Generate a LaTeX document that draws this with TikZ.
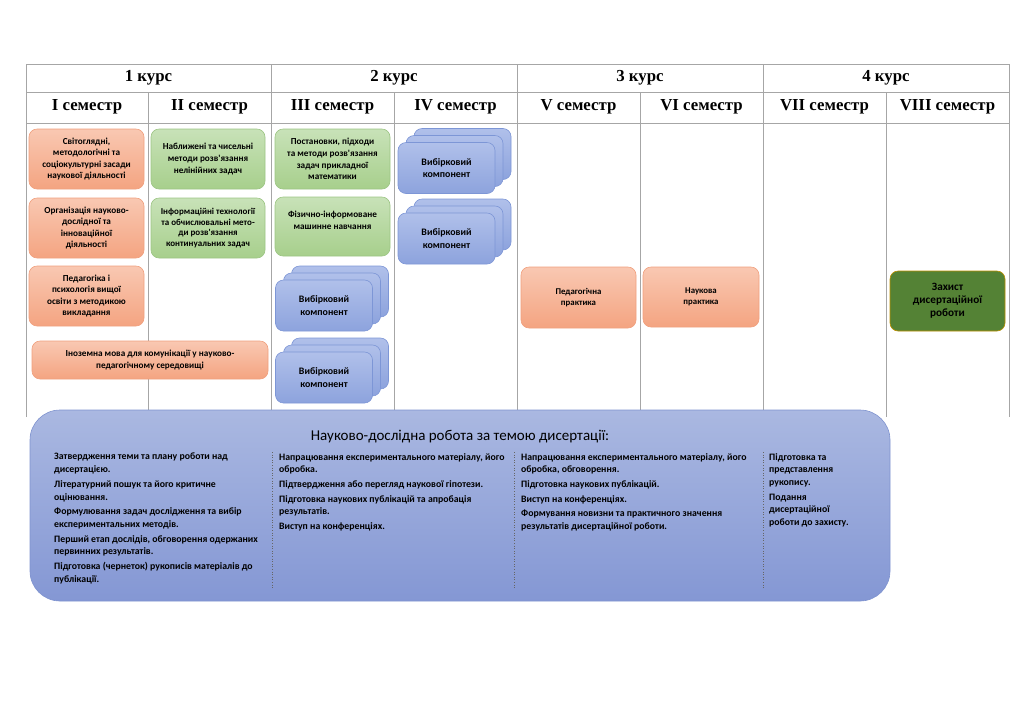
\documentclass[tikz,border=0pt]{standalone}
\usepackage{fontspec}
\setmainfont{Liberation Serif}
\newfontfamily\calfont{Carlito}
\definecolor{gridgray}{HTML}{A6A6A6}
\definecolor{orT}{HTML}{F9C8B2}
\definecolor{orB}{HTML}{F4A481}
\definecolor{orD}{HTML}{F0A07E}
\definecolor{grT}{HTML}{C8E2B8}
\definecolor{grB}{HTML}{A7CF8C}
\definecolor{grD}{HTML}{9CC584}
\definecolor{blT}{HTML}{B0C0EA}
\definecolor{blB}{HTML}{8DA3DD}
\definecolor{blD}{HTML}{7D96D6}
\definecolor{bigT}{HTML}{AAB8E1}
\definecolor{bigB}{HTML}{8497D4}
\definecolor{bigD}{HTML}{7F93CF}
\definecolor{dkgreen}{HTML}{548235}
\definecolor{gold}{HTML}{BF9000}
\begin{document}
\begin{tikzpicture}[x=1pt,y=-1pt,
  grid/.style={draw=gridgray, line width=0.9pt},
  hd/.style={font=\bfseries\fontsize{16.8}{18}\selectfont, inner sep=0},
  boxbase/.style={rounded corners=8pt, align=center, inner sep=1pt, line width=0.6pt},
  orbox/.style={boxbase, draw=orD, top color=orT, bottom color=orB, font=\calfont\bfseries\fontsize{9.2}{11.6}\selectfont},
  grbox/.style={boxbase, draw=grD, top color=grT, bottom color=grB, font=\calfont\bfseries\fontsize{9.2}{11.6}\selectfont},
  blbox/.style={boxbase, draw=blD, top color=blT, bottom color=blB, minimum width=97pt, minimum height=51pt, font=\calfont\bfseries\fontsize{9.9}{12.5}\selectfont},
  prbox/.style={orbox, font=\calfont\bfseries\fontsize{8.8}{11.5}\selectfont},
  sect/.style={anchor=north west, inner sep=0, align=left, font=\calfont\bfseries\fontsize{9.8}{12.7}\selectfont},
  sep/.style={draw=black!60, dotted, line width=0.6pt}
]
\useasboundingbox (0,0) rectangle (1024,724);

% table
\draw[grid] (26,417) -- (26,64) -- (1009,64) -- (1009,417);
\draw[grid] (26,92) -- (1009,92);
\draw[grid] (26,123) -- (1009,123);
\foreach \x in {271,517,763} \draw[grid] (\x,64) -- (\x,417);
\foreach \x in {148,394,640,886} \draw[grid] (\x,92) -- (\x,417);

\node[hd] (k1) at (148.5,77.5) {1 курс};
\node[hd] (k2) at (394,77.5) {2 курс};
\node[hd] (k3) at (640,77.5) {3 курс};
\node[hd] (k4) at (886,77.5) {4 курс};
\node[hd] (s1) at (87,106.5) {I семестр};
\node[hd] (s2) at (209.5,106.5) {II семестр};
\node[hd] (s3) at (332.5,106.5) {III семестр};
\node[hd] (s4) at (455.5,106.5) {IV семестр};
\node[hd] (s5) at (578.5,106.5) {V семестр};
\node[hd] (s6) at (701.5,106.5) {VI семестр};
\node[hd] (s7) at (824.5,106.5) {VII семестр};
\node[hd] (s8) at (947.5,106.5) {VIII семестр};

% semester I
\node[orbox, minimum width=115pt, minimum height=60pt] (a1) at (86.5,159)
  {Світоглядні,\\методологічні та\\соціокультурні засади\\наукової діяльності};
\node[orbox, minimum width=115pt, minimum height=60pt] (a2) at (86.5,228)
  {Організація науково-\\дослідної та\\інноваційної\\діяльності};
\node[orbox, minimum width=115pt, minimum height=60pt] (a3) at (86.5,296)
  {Педагогіка і\\психологія вищої\\освіти з методикою\\викладання};
\node[orbox, minimum width=236pt, minimum height=38pt] (a4) at (150,360)
  {Іноземна мова для комунікації у науково-\\педагогічному середовищі};

% semester II
\node[grbox, minimum width=114pt, minimum height=60pt] (b1) at (208,159)
  {Наближені та чисельні\\методи розв'язання\\нелінійних задач};
\node[grbox, minimum width=114pt, minimum height=60pt, font=\calfont\bfseries\fontsize{9}{10.4}\selectfont] (b2) at (208,228)
  {Інформаційні технології\\та обчислювальні мето-\\ди розв'язання\\континуальних задач};

% semester III
\node[grbox, minimum width=115pt, minimum height=60pt] (c1) at (332.5,159)
  {Постановки, підходи\\та методи розв'язання\\задач прикладної\\математики};
\node[grbox, minimum width=115pt, minimum height=59pt, text depth=12pt] (c2) at (332.5,226.5)
  {Фізично-інформоване\\машинне навчання};
\node[blbox] (c3c) at (340,291.5) {};
\node[blbox] (c3b) at (332,298.5) {};
\node[blbox] (c3a) at (324,305.5) {Вибірковий\\компонент};
\node[blbox] (c4c) at (340,363.5) {};
\node[blbox] (c4b) at (332,370.5) {};
\node[blbox] (c4a) at (324,377.5) {Вибірковий\\компонент};

% semester IV
\node[blbox] (d1c) at (462.5,154) {};
\node[blbox] (d1b) at (454.5,161) {};
\node[blbox] (d1a) at (446.5,168) {Вибірковий\\компонент};
\node[blbox] (d2c) at (462.5,224.5) {};
\node[blbox] (d2b) at (454.5,231.5) {};
\node[blbox] (d2a) at (446.5,238.5) {Вибірковий\\компонент};

% semesters V, VI, VIII
\node[prbox, minimum width=115pt, minimum height=61pt] (e1) at (578.5,297.5) {Педагогічна\\практика};
\node[prbox, minimum width=116pt, minimum height=60pt] (f1) at (701,297) {Наукова\\практика};
\node[boxbase, draw=gold, fill=dkgreen, minimum width=115pt, minimum height=60pt,
  font=\calfont\bfseries\fontsize{11.2}{13}\selectfont] (h1) at (947.5,301) {Захист\\дисертаційної\\роботи};

% big research box
\node[draw=bigD, line width=0.6pt, rounded corners=30pt, top color=bigT, bottom color=bigB,
  minimum width=860pt, minimum height=191pt, inner sep=0] (big) at (460,505.5) {};
\node[font=\calfont\fontsize{15}{17}\selectfont, inner sep=0] (title) at (460,437)
  {Науково-дослідна робота за темою дисертації:};

\coordinate (p1t) at (272,452); \coordinate (p1b) at (272,588);
\coordinate (p2t) at (514,452); \coordinate (p2b) at (514,588);
\coordinate (p3t) at (763,452); \coordinate (p3b) at (763,588);
\draw[sep] (p1t) -- (p1b);
\draw[sep] (p2t) -- (p2b);
\draw[sep] (p3t) -- (p3b);

\node[sect] (t1) at (54,453) {Затвердження теми та плану роботи над\\дисертацією.\\[2pt]
Літературний пошук та його критичне\\оцінювання.\\[2pt]
Формулювання задач дослідження та вибір\\експериментальних методів.\\[2pt]
Перший етап дослідів, обговорення одержаних\\первинних результатів.\\[2pt]
Підготовка (чернеток) рукописів матеріалів до\\публікації.};
\node[sect] (t2) at (279,453) {Напрацювання експериментального матеріалу, його\\обробка.\\[2pt]
Підтвердження або перегляд наукової гіпотези.\\[2pt]
Підготовка наукових публікацій та апробація\\результатів.\\[2pt]
Виступ на конференціях.};
\node[sect] (t3) at (521,453) {Напрацювання експериментального матеріалу, його\\обробка, обговорення.\\[2pt]
Підготовка наукових публікацій.\\[2pt]
Виступ на конференціях.\\[2pt]
Формування новизни та практичного значення\\результатів дисертаційної роботи.};
\node[sect] (t4) at (769,453) {Підготовка та\\представлення\\рукопису.\\[2pt]
Подання\\дисертаційної\\роботи до захисту.};
\end{tikzpicture}
\end{document}
